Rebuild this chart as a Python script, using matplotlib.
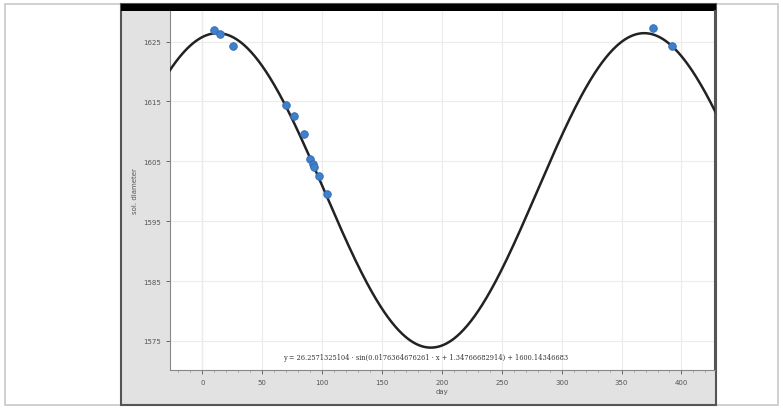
import matplotlib.pyplot as plt
import numpy as np
from matplotlib.patches import Rectangle

# measured points (day, sol. diameter)
day = [10, 15, 26, 69.5, 76.5, 85, 90, 92, 93.5, 97, 104, 376, 392]
diam = [1627.0, 1626.2, 1624.3, 1614.4, 1612.6, 1609.6, 1605.4, 1604.6, 1604.0, 1602.6, 1599.6, 1627.2, 1624.3]

# fitted sine
A, B, C, D = 26.2571325104, 0.0176364676261, 1.34766682914, 1600.14346683
eq_text = "y = 26.2571325104 · sin(0.0176364676261 · x + 1.34766682914) + 1600.14346683"

xticks = [0, 50, 100, 150, 200, 250, 300, 350, 400]
yticks = [1575, 1585, 1595, 1605, 1615, 1625]

W, H = 783, 410
fig = plt.figure(figsize=(W / 100, H / 100), dpi=100)

# screen frame (behind the axes)
fig.patches.append(Rectangle((5 / W, 4 / H), 773 / W, 401 / H, transform=fig.transFigure,
                             facecolor='white', edgecolor='#c8c8c8', lw=1.2, zorder=-10))
fig.patches.append(Rectangle((121 / W, 4 / H), 595 / W, 401 / H, transform=fig.transFigure,
                             facecolor='#e2e2e2', edgecolor='#555555', lw=1.5, zorder=-9))
fig.patches.append(Rectangle((121 / W, (H - 12) / H), 595 / W, 7 / H, transform=fig.transFigure,
                             facecolor='black', edgecolor='black', lw=0, zorder=-8))

ax = fig.add_axes([170 / W, (H - 370.7) / H, 545 / W, 358.7 / H])
ax.set_facecolor('white')

xs = np.linspace(-28, 430, 600)
ax.plot(xs, A * np.sin(B * xs + C) + D, color='#222222', lw=1.8, zorder=3)
ax.scatter(day, diam, s=30, color='#3f7fcc', edgecolor='#2f6ab0', lw=0.6, zorder=4)

ax.set_xlim(-27, 428)
ax.set_ylim(1570.2, 1630.1)
ax.set_xticks(xticks)
ax.set_yticks(yticks)
ax.set_xticks(range(-20, 430, 10), minor=True)
ax.grid(True, color='#ececec', lw=0.8)
ax.axvline(0, color='#aaaaaa', lw=0.8, zorder=1)
ax.tick_params(labelsize=5, colors='#555555', length=3, width=0.6)
ax.tick_params(which='minor', length=1.5, width=0.5, colors='#888888')
ax.spines['top'].set_visible(False)
ax.spines['left'].set_color('#888888')
ax.spines['bottom'].set_color('#888888')
ax.spines['right'].set_color('#555555')
ax.spines['right'].set_linewidth(1.5)

ax.set_xlabel('day', fontsize=5, color='#555555', labelpad=2)
ax.set_ylabel('sol. diameter', fontsize=5, color='#555555', labelpad=4)

ax.text(186, 1572.4, eq_text, fontsize=4.8, family='DejaVu Serif', color='#333333',
        ha='center', va='center', zorder=5)

fig.savefig('out.png', dpi=100)
